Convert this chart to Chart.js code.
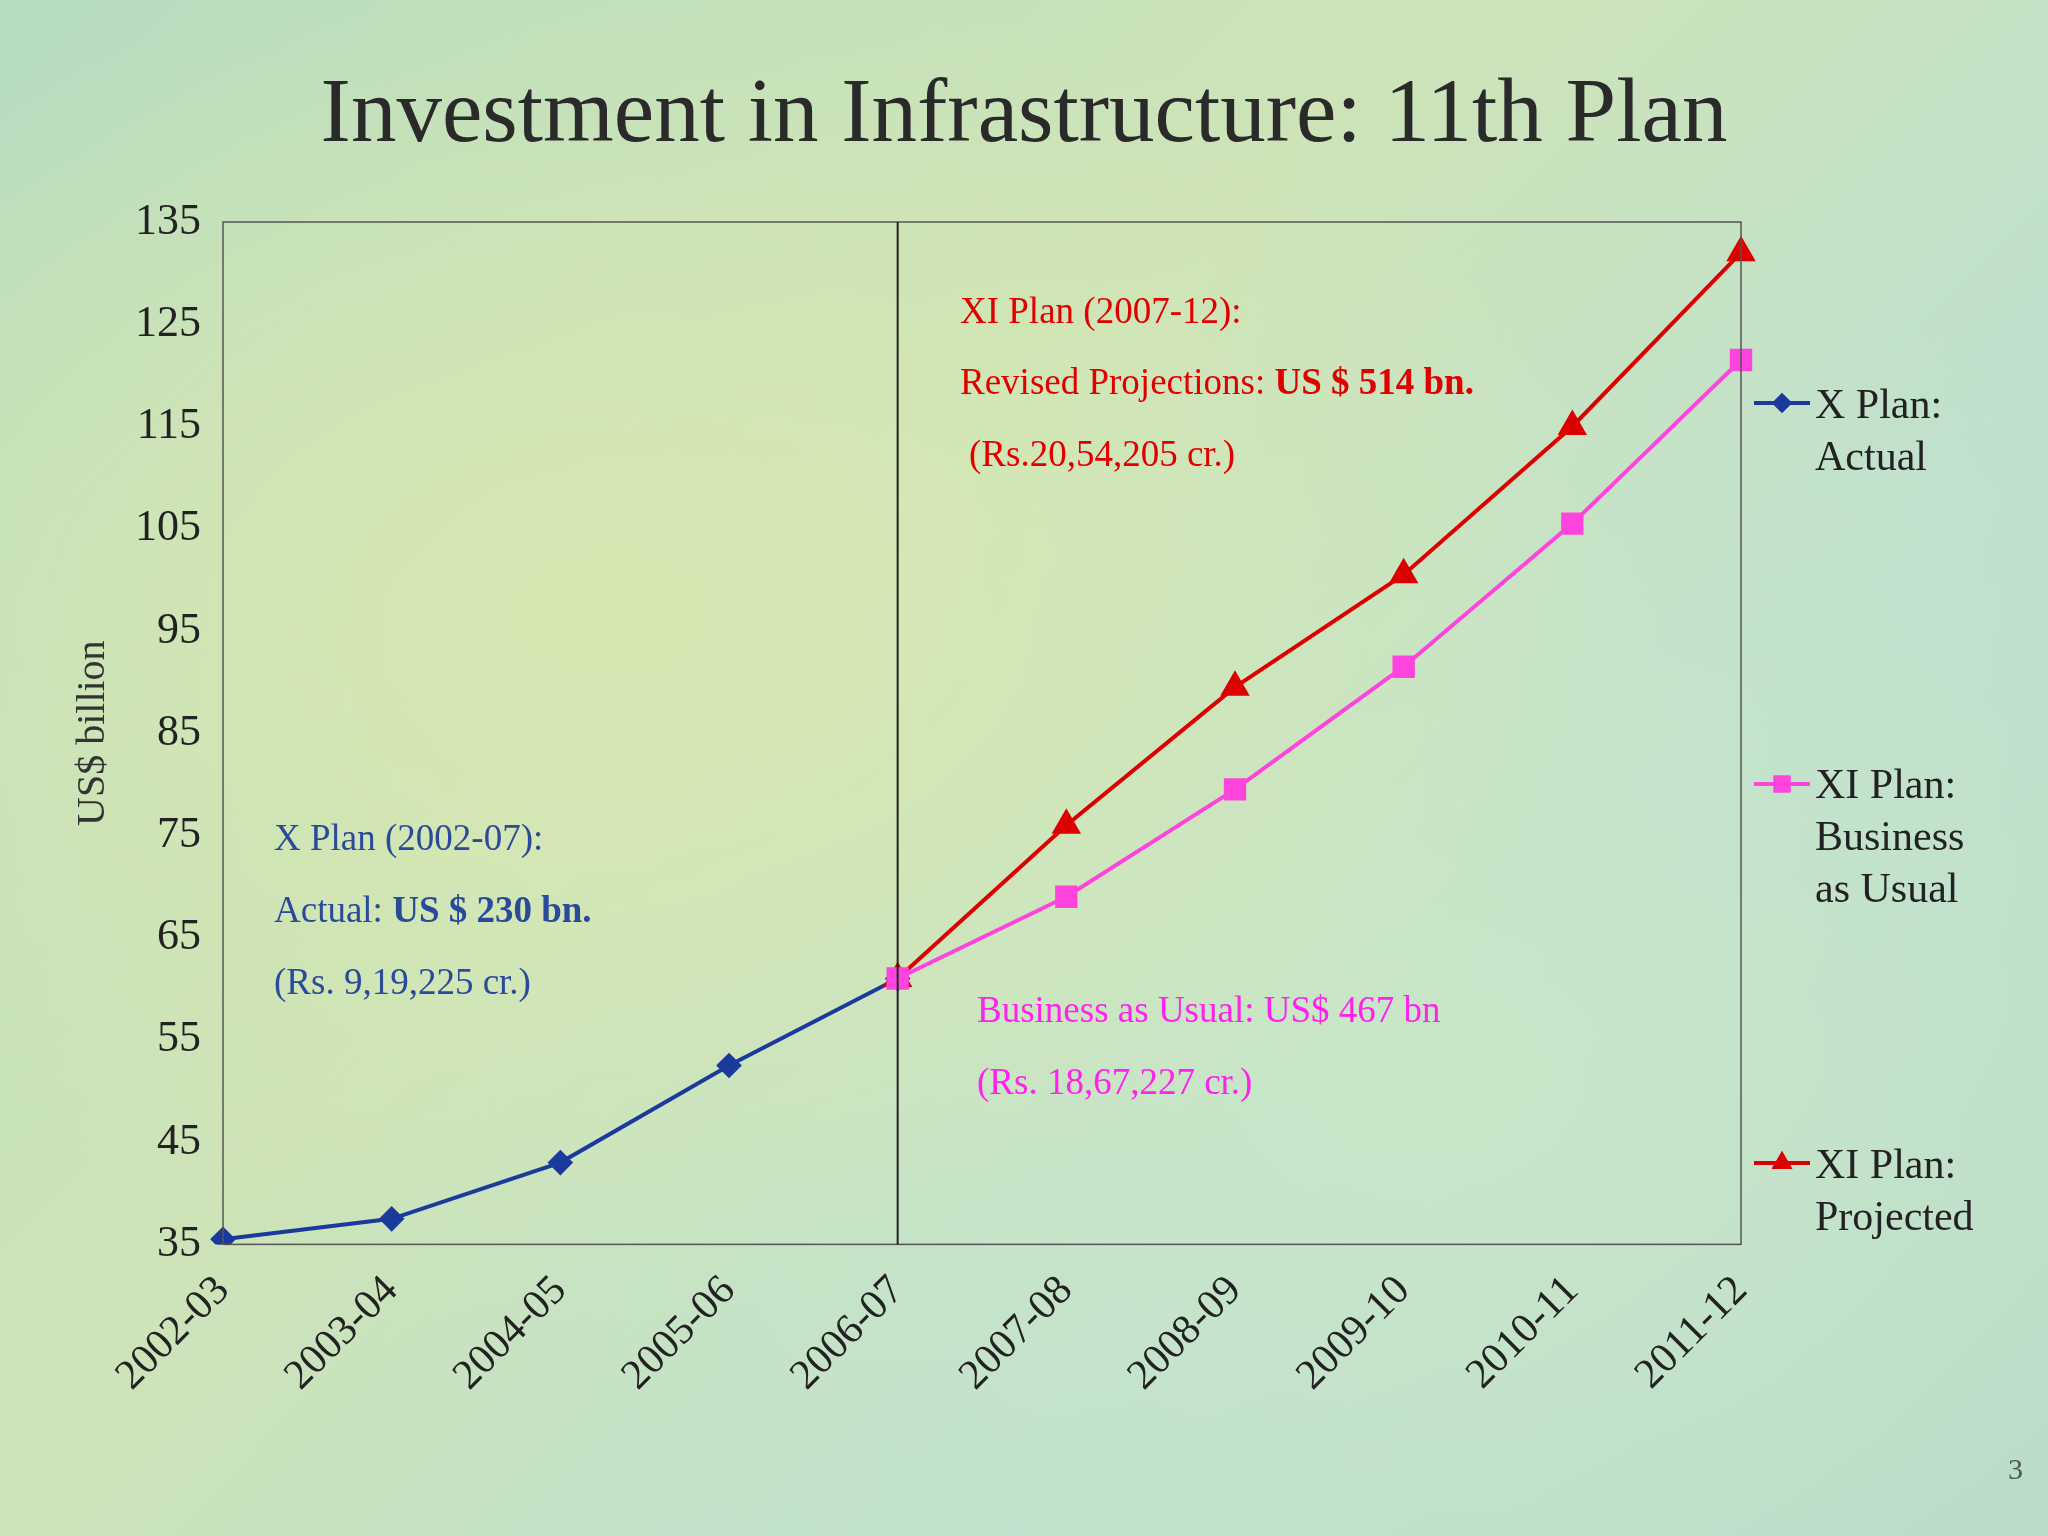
<!DOCTYPE html>
<html>
<head>
<meta charset="utf-8">
<script src="https://cdn.jsdelivr.net/npm/chart.js@4/dist/chart.umd.min.js"></script>
<style>
  body { margin:0; width:2048px; height:1536px; overflow:hidden; font-family:"Liberation Serif", serif;
    background: radial-gradient(ellipse at 30% 40%, #d8e8b0 0%, transparent 50%),
                radial-gradient(ellipse at 70% 70%, #c9e6c8 0%, transparent 55%),
                linear-gradient(135deg, #b7dcc0 0%, #cde4b8 40%, #bfe0cf 70%, #b5d8c8 100%); }
  #wrap { position:absolute; left:0; top:0; width:2048px; height:1536px; }
  h1 { position:absolute; left:0; width:2048px; top:58px; margin:0; text-align:center; font-weight:normal; font-size:91px; color:#2a2a2a; }
  .t { position:absolute; font-size:37px; white-space:nowrap; transform:translateY(-50%); }
  .red { color:#e00000; } .blue { color:#2a4a9a; } .mag { color:#ff22ee; }
  .leg { position:absolute; left:1815px; font-size:42px; line-height:52px; color:#222; }
</style>
</head>
<body>
<h1>Investment in Infrastructure: 11th Plan</h1>
<div id="wrap"><canvas id="chart" width="2048" height="1536"></canvas></div>
<div class="t red" style="left:960px;top:310px">XI Plan (2007-12):</div>
<div class="t red" style="left:960px;top:381px">Revised Projections: <b>US $ 514 bn.</b></div>
<div class="t red" style="left:969px;top:453px">(Rs.20,54,205 cr.)</div>
<div class="t blue" style="left:274px;top:837px">X Plan (2002-07):</div>
<div class="t blue" style="left:274px;top:909px">Actual: <b>US $ 230 bn.</b></div>
<div class="t blue" style="left:274px;top:981px">(Rs. 9,19,225 cr.)</div>
<div class="t mag" style="left:977px;top:1009px">Business as Usual: US$ 467 bn</div>
<div class="t mag" style="left:977px;top:1081px">(Rs. 18,67,227 cr.)</div>
<div class="leg" style="top:378px">X Plan:<br>Actual</div>
<div class="leg" style="top:758px">XI Plan:<br>Business<br>as Usual</div>
<div class="leg" style="top:1138px">XI Plan:<br>Projected</div>
<div class="t" style="left:2008px;top:1469px;font-size:30px;color:#555">3</div>
<script>
const years = ['2002-03','2003-04','2004-05','2005-06','2006-07','2007-08','2008-09','2009-10','2010-11','2011-12'];
const xPlanActual = [35.5, 37.5, 43, 52.5, 61, null, null, null, null, null];
const xiBusinessAsUsual = [null, null, null, null, 61, 69, 79.5, 91.5, 105.5, 121.5];
const xiProjected = [null, null, null, null, 61, 76, 89.5, 100.5, 115, 132];

// legend swatches and box/divider line
const extras = {
  id: 'extras',
  afterDraw(chart) {
    const ctx = chart.ctx, a = chart.chartArea, x = chart.scales.x;
    ctx.save();
    ctx.strokeStyle = '#555'; ctx.lineWidth = 1.5;
    ctx.strokeRect(a.left, a.top, a.right - a.left, a.bottom - a.top);
    ctx.strokeStyle = '#222'; ctx.lineWidth = 2;
    const vx = x.getPixelForValue(4);
    ctx.beginPath(); ctx.moveTo(vx, a.top); ctx.lineTo(vx, a.bottom); ctx.stroke();
    const items = [['#1a3a9c', 'rectRot', 10, 403], ['#ff44dd', 'rect', 12, 784], ['#dd0000', 'triangle', 12, 1163]];
    items.forEach(([c, s, r, y]) => {
      ctx.strokeStyle = c; ctx.lineWidth = 4;
      ctx.beginPath(); ctx.moveTo(1754, y); ctx.lineTo(1810, y); ctx.stroke();
      ctx.fillStyle = c;
      Chart.helpers.drawPoint(ctx, {pointStyle: s, radius: r, borderWidth: 0}, 1782, y);
      ctx.fill();
    });
    ctx.restore();
  }
};

new Chart(document.getElementById('chart'), {
  type: 'line',
  data: {
    labels: years,
    datasets: [
      { data: xiBusinessAsUsual, borderColor: '#ff44dd', backgroundColor: '#ff44dd', borderWidth: 4, pointStyle: 'rect', pointRadius: 13 },
      { data: xiProjected, borderColor: '#dd0000', backgroundColor: '#dd0000', borderWidth: 4, pointStyle: 'triangle', pointRadius: 13 },
      { data: xPlanActual, borderColor: '#1a3a9c', backgroundColor: '#1a3a9c', borderWidth: 4, pointStyle: 'rectRot', pointRadius: 10 }
    ]
  },
  options: {
    responsive: false, animation: false,
    layout: { padding: { left: 65, right: 307, top: 222, bottom: 121 } },
    plugins: { legend: { display: false }, tooltip: { enabled: false } },
    scales: {
      x: {
        offset: false,
        grid: { display: false },
        border: { display: false },
        ticks: { minRotation: 45, maxRotation: 45, color: '#222', padding: 14, font: { family: 'Liberation Serif', size: 42 } }
      },
      y: {
        min: 35, max: 135,
        grid: { display: false },
        border: { display: false },
        ticks: { stepSize: 10, color: '#222', padding: 14, font: { family: 'Liberation Serif', size: 44 } },
        title: { display: true, text: 'US$ billion', color: '#333', font: { family: 'Liberation Serif', size: 40 } }
      }
    }
  },
  plugins: [extras]
});
</script>
</body>
</html>
